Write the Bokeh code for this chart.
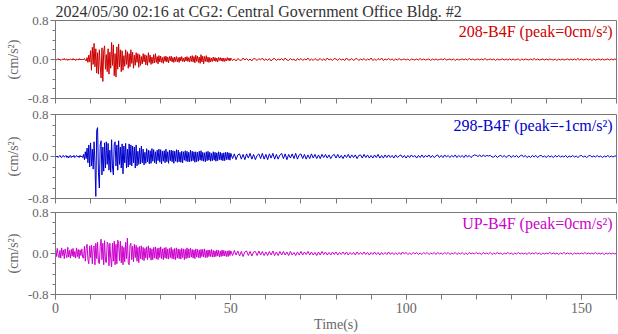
import numpy as np
from bokeh.plotting import figure
from bokeh.layouts import column
from bokeh.models import Range1d, FixedTicker, Label
from bokeh.embed import file_html
from bokeh.resources import INLINE

# ---------------- data (values in 0.01 cm/s^2) ----------------
TITLE = "2024/05/30 02:16 at CG2: Central Government Office Bldg. #2"
channels = ["208-B4F", "298-B4F", "UP-B4F"]
peaks = ["0", "-1", "0"]
colors = ["#cc0000", "#0000cc", "#cc00cc"]
x_ticks = [0, 50, 100, 150]
y_ticks = [-0.8, 0.0, 0.8]

# sample times: 0.25 s to 8 s, 0.25 s from 8 to 50 s, 0.5 s from 50 to 160 s
t_a = np.arange(0, 8, 0.25)
t_b = np.arange(8, 50, 0.25)
t_c = np.arange(50, 160.01, 0.5)

ch208_a = [1, -1, 0, 2, -1, 1, -2, 0, 1, -1, 2, -1, 0, 1, -2, 1,
           -1, 1, 0, -1, 2, -1, 1, -2, 1, 0, -1, 2, -1, 1, -1, 1]
ch208_b = [-1, 2, -1, -3, 4, -6, 9, -5, 18, -22, 25, -10, 33, -15, 22, -28,
           14, -30, 20, -12, -38, 24, -45, 18, 28, -20, 10, -25, 22, -30, 15, -18,
           35, -12, 30, -33, 12, -36, 26, -20, 32, -15, 20, -25, 18, -22, 8, -14,
           20, -10, 16, -18, 12, -15, 20, -8, 15, -18, 9, -12, 14, -6, 12, -16,
           10, -12, 6, -9, 12, -5, 10, -11, 8, -12, 14, -6, 9, -10, 5, -8,
           10, -7, 12, -6, 6, -9, 8, -5, 7, -6, 4, -8, 6, -4, 7, -5,
           5, -7, 6, -3, 7, -5, 4, -6, 5, -4, 6, -5, 4, -6, 5, -3,
           6, -4, 3, -5, 5, -3, 6, -4, 4, -5, 7, -4, 8, -5, 6, -7,
           9, -4, 7, -6, 5, -8, 10, -5, 7, -9, 6, -4, 8, -5, 5, -6,
           4, -5, 3, -4, 5, -3, 4, -4, 3, -5, 4, -2, 4, -3, 3, -4,
           3, -4, 2, -3, 4, -2, 3, -3]
ch208_c = [3, -2, 1, -3, 2, -1, -2, 3, -1, 2, -2, 1, -3, 2, 1, -2, 2, -1, 3, -2,
           1, -2, 2, -3, 1, 2, -2, 1, -1, 2, -2, 3, -1, -2, 2, -1, 1, -3, 2, -1,
           2, -2, 1, -1, 3, -2, 1, -2, 2, -1, -1, 2, -2, 1, -2, 3, -1, 1, -2, 2,
           1, -2, 2, -1, 1, -2, 3, -1, -1, 2, -2, 1, 2, -2, 1, -1, 2, -2, 1, -1,
           3, -2, 1, -2, 2, -1, 3, -2, 1, -1, 2, -1, 1, -2, 1, -1, 2, -1, 0, 1,
           -1, 1, -2, 1, 0, -1, 1, -1, 2, -1, 1, -1, 0, 1, -2, 1, -1, 1, -1, 0,
           1, -1, 2, -1, 0, 1, -1, 1, -2, 1, -1, 0, 1, -1, 1, -1, 2, -1, 1, -1,
           0, 1, -1, 1, -1, 2, -1, 0, 1, -1, 1, -2, 1, -1, 0, 1, -1, 1, -1, 1,
           -1, 1, -1, 0, 1, -2, 1, -1, 1, 0, -1, 1, -1, 2, -1, 1, -1, 0, 1, -1,
           1, -1, 1, 0, -1, 1, -2, 1, -1, 1, -1, 0, 1, -1, 1, -1, 1, -1, 2, -1,
           1, -1, 0, 1, -1, 1, -2, 1, -1, 0, 1, -1, 1, -1, 0, 1, -1, 1, -1, 1,
           0]

ch298_a = [2, -1, 1, -2, 0, 2, -1, -2, 1, 2, -1, 0, 2, -2, 1, -3,
           1, 2, -2, 1, -1, 2, -2, 0, 2, -1, 1, -2, 2, -1, 1, -2]
ch298_b = [4, -6, 9, -4, 16, -12, 22, -20, 26, -18, 14, -24, 28, -12, -76, 50,
           55, -30, -60, 22, 30, -35, 18, -28, 26, -22, 28, -15, 25, -26, 12, -30,
           32, -20, -35, 24, 28, -18, 22, -26, 30, -15, 18, -22, 24, -33, 20, -12,
           25, -22, 14, -20, 24, -16, 22, -18, 20, -12, 18, -22, 22, -18, 10, -15,
           16, -14, 20, -12, 14, -16, 8, -13, 15, -10, 12, -14, 11, -13, 15, -9,
           13, -12, 9, -14, 12, -8, 14, -11, 13, -14, 10, -9, 11, -12, 14, -10,
           9, -13, 12, -8, 12, -10, 11, -13, 10, -9, 13, -11, 12, -10, 8, -11,
           10, -12, 9, -7, 11, -9, 10, -10, 8, -10, 12, -9, 10, -8, 9, -11,
           9, -10, 8, -9, 10, -7, 11, -8, 8, -9, 7, -10, 9, -8, 10, -7,
           8, -9, 6, -8, 9, -7, 8, -9, 7, -8, 9, -6, 8, -7, 6, -8,
           7, -8, 8, -6, 8, -6, 7, -7]
ch298_c = [6, -4, 5, -6, 3, 5, -5, 4, -6, 5, -3, 6, -5, 4, -6, 2, 5, -4, 6, -5,
           4, -6, 5, -3, 6, -5, 4, -5, 3, 6, -4, 5, -6, 4, -3, 5, -4, 6, -5, 3,
           5, -4, 4, -5, 3, -4, 5, -3, 4, -4, 3, -4, 4, -2, 4, -3, 3, -4, 2, 4,
           -3, 4, -3, 2, -4, 3, -2, 4, -3, 3, -2, 3, -4, 2, 3, -3, 4, -2, 3, -3,
           2, -3, 3, -2, 4, -3, 2, -3, 3, -2, 3, -2, 2, -3, 3, -2, 1, 3, -2, 2,
           -3, 2, -2, 3, -1, 2, -3, 2, -2, 3, -2, 2, -1, 3, -2, 2, -2, 1, 3, -2,
           2, -2, 3, -1, 2, -2, 2, -1, 3, -2, 2, -1, 2, -2, 3, -1, 2, -2, 1, 3,
           2, 0, 3, -1, 3, 0, 2, 1, 2, -1, -1, 2, -2, 1, 2, -1, 2, -2, 1, 2,
           -2, 2, -1, 2, -2, 1, 3, -1, 2, -2, 1, -2, 2, -1, 2, -2, 1, 2, -1, 1,
           -2, 2, -1, 1, -2, 2, -1, 2, -1, 1, -1, 2, -2, 1, -1, 2, -1, 1, -2, 1,
           2, -1, 1, -2, 1, 2, -1, 1, -1, 2, -1, 1, -2, 1, -1, 2, -1, 1, -1, 1,
           1]

chup_a = [8, -6, 10, -3, -8, 6, -9, 11, -4, 7, -10, 9, -2, -8, 12, -7,
          6, -9, 8, -5, 10, -7, 4, -9, 11, -6, 8, -10, 7, -4, 9, -8]
chup_b = [-9, 14, -15, 10, 18, -12, -20, 15, -8, 16, -20, 12, 15, -22, 20, -10,
          22, -18, -20, 14, 28, -12, 20, -22, 25, -15, -18, 22, 18, -24, 20, -10,
          -26, 20, -15, 24, -22, 18, -20, 26, 20, -14, 24, -18, 15, -22, 12, -16,
          22, -10, 30, -18, -22, 16, 20, -12, 14, -16, 18, -8, 16, -15, 12, -18,
          14, -10, 15, -12, 12, -14, 10, -9, 13, -12, 15, -8, 11, -13, 9, -12,
          12, -9, 13, -11, 10, -12, 11, -8, 13, -10, 9, -12, 11, -9, 12, -10,
          9, -11, 10, -8, 12, -10, 8, -11, 10, -12, 11, -9, 9, -10, 8, -11,
          10, -8, 9, -12, 8, -10, 11, -9, 9, -8, 10, -7, 8, -9, 7, -10,
          9, -7, 8, -8, 7, -9, 8, -6, 8, -7, 9, -8, 6, -8, 7, -6,
          7, -6, 8, -7, 6, -7, 5, -6, 7, -5, 6, -7, 5, -6, 7, -5,
          6, -5, 5, -6, 5, -6, 6, -4]
chup_c = [5, -4, 6, -3, 5, -5, 4, -6, 3, 5, -4, 4, -5, 3, 4, -4, 5, -3, 4, -4,
          3, -4, 4, -3, 5, -4, 3, -4, 4, -3, 4, -3, 3, -4, 4, -3, 2, -4, 3, -3,
          4, -3, 3, -2, 4, -3, 3, -3, 2, -4, 3, -3, 4, -2, 3, -3, 2, -3, 3, -2,
          3, -3, 2, -2, 3, -2, 3, -3, 2, -2, 2, -3, 3, -2, 2, -2, 3, -2, 2, -3,
          2, -2, 3, -2, 2, -3, 2, -2, 2, -2, 3, -2, 2, -2, 1, -2, 2, -2, 3, -1,
          2, -2, 1, -2, 2, -1, 2, -2, 1, -2, 2, -1, 2, -2, 1, -1, 2, -2, 2, -1,
          1, -2, 2, -1, 2, -2, 1, -1, 2, -2, 1, -1, 2, -2, 1, -2, 2, -1, 1, -1,
          2, -1, 1, -2, 2, -1, 1, -1, 2, -2, 1, -1, 2, -1, 1, -2, 1, -1, 2, -1,
          1, -2, 1, -1, 2, -1, 1, -1, 1, -2, 2, -1, 1, -1, 2, -1, 1, -2, 1, -1,
          1, -1, 2, -1, 1, -1, 1, -2, 1, -1, 2, -1, 1, -1, 1, -2, 1, -1, 1, -1,
          1, -1, 2, -1, 1, -1, 1, -1, 2, -1, 1, -1, 1, -2, 1, -1, 1, -1, 1, -1,
          1]

series = [(ch208_a, ch208_b, ch208_c),
          (ch298_a, ch298_b, ch298_c),
          (chup_a, chup_b, chup_c)]

FONT = "Liberation Serif"
AX = "#777777"
TXT = "#666666"

t_all = np.concatenate([t_a, t_b, t_c])
x_range = Range1d(0, 160)

heights = [106, 99, 129]
tops = [0, 8, 7]
bottoms = [8, 7, 38]

figs = []
for i in range(3):
    kw = {}
    if i == 0:
        kw["title"] = TITLE
    p = figure(width=618, height=heights[i], output_backend="svg", toolbar_location=None,
               x_range=x_range, y_range=Range1d(-0.8, 0.8),
               min_border_left=55, min_border_right=2,
               min_border_top=tops[i], min_border_bottom=bottoms[i], **kw)
    if i == 0:
        p.title.align = "left"
        p.title.offset = 0
        p.title.standoff = 1
        p.title.text_font = FONT
        p.title.text_font_size = "16px"
        p.title.text_font_style = "normal"
        p.title.text_color = "#333333"
    p.outline_line_color = AX
    p.outline_line_width = 1
    p.xgrid.visible = False
    p.ygrid.visible = False
    p.background_fill_color = "white"
    p.border_fill_color = "white"

    a, b, c = series[i]
    assert len(a) == len(t_a) and len(b) == len(t_b) and len(c) == len(t_c), (i, len(a), len(b), len(c))
    vals = np.array(a + b + c, dtype=float) * 0.01
    p.line(t_all, vals, line_color=colors[i], line_width=1)

    xa = p.xaxis[0]
    xa.axis_line_color = AX
    xa.major_tick_line_color = AX
    xa.minor_tick_line_color = AX
    xa.major_tick_out = 5
    xa.major_tick_in = 0
    xa.minor_tick_out = 5
    xa.minor_tick_in = 0
    if i < 2:
        xa.ticker = FixedTicker(ticks=[], minor_ticks=list(range(0, 161, 10)))
        xa.major_label_standoff = 0
    else:
        xa.ticker = FixedTicker(ticks=x_ticks, minor_ticks=list(range(0, 161, 10)))
        xa.major_label_text_font = FONT
        xa.major_label_text_color = TXT
        xa.major_label_text_font_size = "14px"
        xa.major_label_standoff = 3
        xa.axis_label = "Time(s)"
        xa.axis_label_text_font = FONT
        xa.axis_label_text_font_style = "normal"
        xa.axis_label_text_color = TXT
        xa.axis_label_text_font_size = "14px"
        xa.axis_label_standoff = 1

    ya = p.yaxis[0]
    ya.ticker = FixedTicker(ticks=y_ticks,
                            minor_ticks=[-0.8, -0.6, -0.4, -0.2, 0.0, 0.2, 0.4, 0.6, 0.8])
    ya.major_label_overrides = {-0.8: "-0.8", 0.0: "0.0", 0.8: "0.8"}
    ya.axis_line_color = AX
    ya.major_tick_line_color = AX
    ya.minor_tick_line_color = AX
    ya.major_tick_out = 5
    ya.major_tick_in = 0
    ya.minor_tick_out = 3
    ya.minor_tick_in = 0
    ya.major_label_text_font = FONT
    ya.major_label_text_color = TXT
    ya.major_label_text_font_size = "13px"
    ya.major_label_standoff = 2
    ya.axis_label = "(cm/s²)"
    ya.axis_label_text_font = FONT
    ya.axis_label_text_font_style = "normal"
    ya.axis_label_text_color = TXT
    ya.axis_label_text_font_size = "14px"
    ya.axis_label_standoff = 4

    p.add_layout(Label(x=160, y=0.8, x_offset=-4, y_offset=-2,
                       text=f"{channels[i]} (peak={peaks[i]}cm/s²)",
                       text_align="right", text_baseline="top",
                       text_font=FONT, text_font_size="16px", text_color=colors[i]))
    figs.append(p)

layout = column(*figs, spacing=0)
open("out.html", "w").write(file_html(layout, INLINE))
